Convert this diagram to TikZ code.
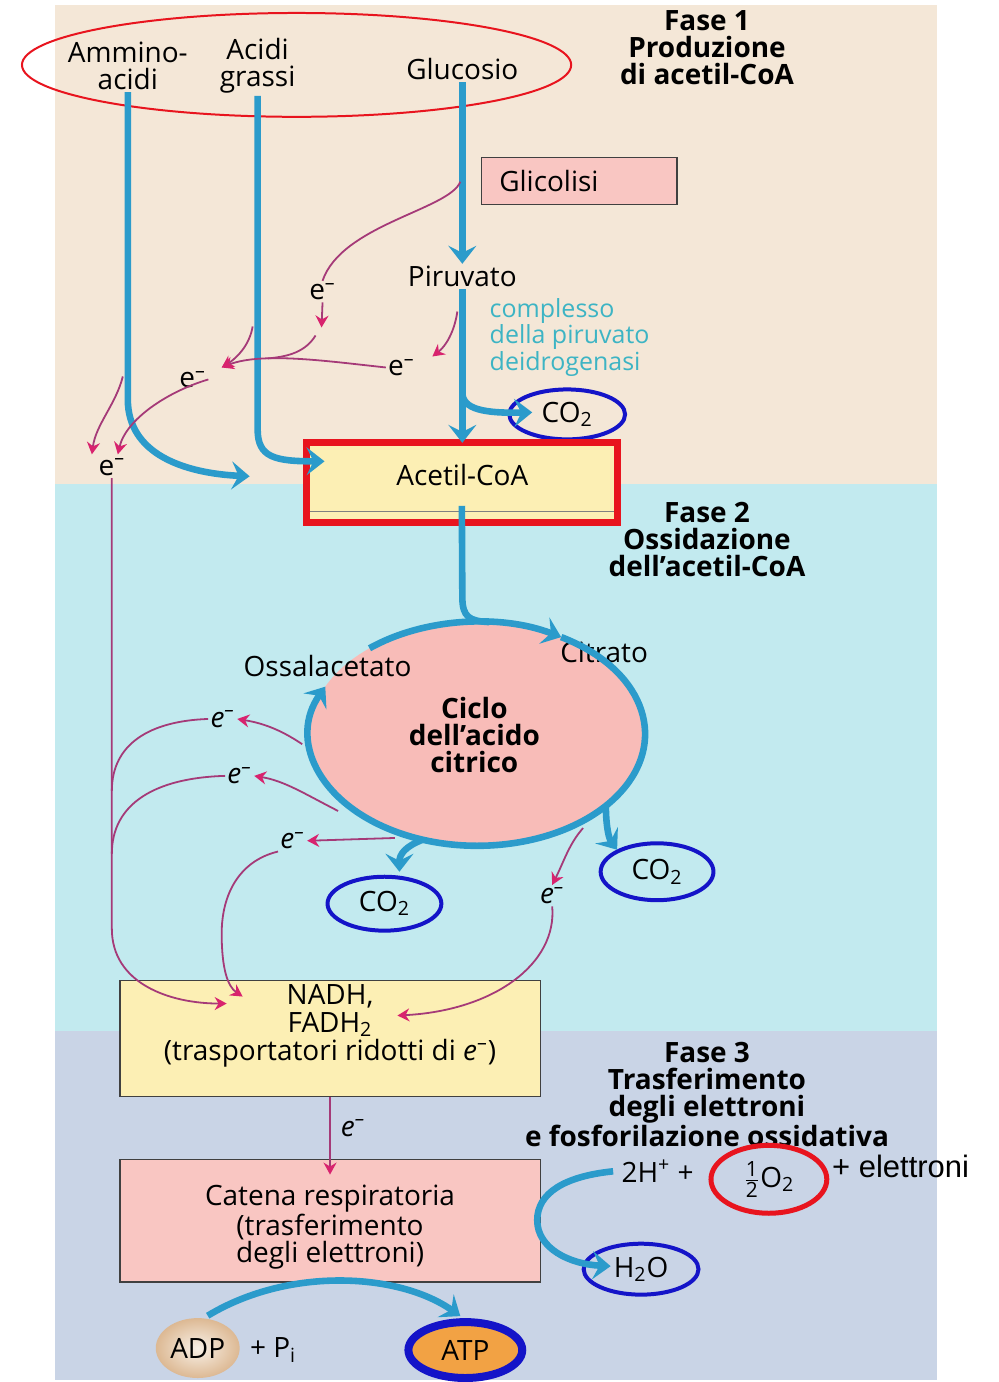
\documentclass[tikz,border=0pt]{standalone}
\usepackage{fontspec}
\setmainfont{Open Sans}
\newfontfamily\arialfont{Liberation Sans}
\usetikzlibrary{arrows.meta,shapes.geometric,calc}

\definecolor{fondobeige}{HTML}{F4E7D7}
\definecolor{fondociano}{HTML}{C2EAEF}
\definecolor{fondogrigio}{HTML}{C9D4E6}
\definecolor{bluflusso}{HTML}{2B9BCB}
\definecolor{testoteal}{HTML}{3DB4C4}
\definecolor{magentalinea}{HTML}{A53A78}
\definecolor{magentapunta}{HTML}{D8236E}
\definecolor{rosabox}{HTML}{F9C6C2}
\definecolor{rosaciclo}{HTML}{F8BCB8}
\definecolor{giallobox}{HTML}{FCEFB4}
\definecolor{bluanello}{HTML}{1414C8}
\definecolor{rosso}{HTML}{E8141E}
\definecolor{arancio}{HTML}{F2A244}

\newcommand{\mezzo}{\(\frac{\hbox{\fontsize{10.5}{10.5}\selectfont 1}}{\hbox{\fontsize{10.5}{10.5}\selectfont 2}}\)}

\tikzset{
  testo/.style={font=\fontsize{14}{13.5}\selectfont, align=center, inner sep=1pt},
  titolo/.style={font=\bfseries\fontsize{14}{13.5}\selectfont, align=center, inner sep=1pt},
  elab/.style={font=\fontsize{14}{14}\selectfont, inner sep=1pt},
  elabit/.style={font=\itshape\fontsize{14}{14}\selectfont, inner sep=1pt},
  flusso/.style={draw=bluflusso, line width=3.3pt, -{Stealth[length=9pt,width=14pt,inset=3.5pt]}},
  flussolinea/.style={draw=bluflusso, line width=3.3pt},
  elettroni/.style={draw=magentalinea, line width=0.9pt, -{Stealth[length=6pt,width=6.5pt,color=magentapunta]}},
  elinea/.style={draw=magentalinea, line width=0.9pt},
  scatola/.style={draw=black!75, line width=0.7pt, minimum width=210.5pt, inner sep=0pt},
  anello/.style={testo, draw=bluanello, line width=2pt, ellipse, inner sep=0pt},
}

\begin{document}
\begin{tikzpicture}[x=0.5pt,y=-0.5pt]
% sfondo delle tre fasi
\fill[white] (0,0) rectangle (1000,1382);
\fill[fondobeige] (55,5) rectangle (938,485);
\fill[fondociano] (55,485) rectangle (938,1032);
\fill[fondogrigio] (55,1032) rectangle (938,1382);
%
% Fase 1
\node[testo] (ammino) at (128,66) {Ammino-\\acidi};
\node[testo] (grassi) at (258,66) {Acidi\\grassi};
\node[testo] (glucosio) at (463,69) {Glucosio};
\draw[rosso, line width=1pt] (297,65) ellipse [x radius=275, y radius=52];
\node[titolo] (fase1) at (708,48) {Fase 1\\Produzione\\di acetil-CoA};
\node[testo, draw=black!75, line width=0.7pt, fill=rosabox, text width=80pt, align=left, inner xsep=9pt, minimum height=23.5pt] (glicolisi) at (580,181.5) {Glicolisi};
\node[testo] (piruvato) at (463,277) {Piruvato};
\node[testo, text=testoteal, align=left, anchor=west, font=\fontsize{12.5}{11.5}\selectfont] (complesso) at (488,338) {complesso\\della piruvato\\deidrogenasi};
\node[anello, minimum width=58pt, minimum height=25pt] (co2a) at (568,415) {CO\textsubscript{2}};
\node[draw=rosso, line width=3.5pt, fill=giallobox, minimum width=156pt, minimum height=40pt, inner sep=0pt, outer sep=0pt] (acetil) at (462.5,483.5) {};
\draw[black!50, line width=0.5pt] ($(acetil.south west)+(4,-11)$) -- ($(acetil.south east)+(-4,-11)$);
\node[testo] (acetiltxt) at (463,476) {Acetil-CoA};
%
\node[elab] (ea) at (323,292) {e\textsuperscript{–}};
\node[elab] (eb) at (402,368) {e\textsuperscript{–}};
\node[elab] (ec) at (193,380) {e\textsuperscript{–}};
\node[elab] (ed) at (112,468) {e\textsuperscript{–}};
\coordinate (amminoend) at (250,477);
\coordinate (grassiend) at (325,462);
\coordinate (pdh) at (463,393);
\coordinate (glicout) at (461,182);
\coordinate (piruout) at (458,312);
\coordinate (grassiout) at (253,327);
\coordinate (amminoout) at (123,377);
\coordinate (enodo) at (222,368);
%
\draw[flusso] (ammino.south) -- (128,400) .. controls (128,455) and (185,474) .. (amminoend);
\draw[flusso] (grassi.south) -- (258,430) .. controls (258,458) and (275,462) .. (grassiend);
\draw[flusso] (glucosio.south) -- (piruvato.north);
\draw[flusso] (piruvato.south) -- (piruvato.south |- acetil.north);
\draw[flusso] (pdh) .. controls (463,410) and (485,414) .. ($(co2a.center)+(-35,-2)$);
%
\draw[elinea] (glicout) .. controls (450,210) and (342,225) .. (ea.north);
\draw[elettroni] (ea.south) -- (322,328);
\draw[elinea] (316,336) .. controls (306,352) and (290,357) .. (268,359);
\draw[elettroni] (piruout) .. controls (455,333) and (446,347) .. (433,357);
\draw[elettroni] (eb.west) .. controls (330,362) and (262,352) .. (enodo);
\draw[elettroni] (grassiout) .. controls (250,345) and (238,358) .. (enodo);
\draw[elettroni] (ec.east) .. controls (168,392) and (126,420) .. (118,455);
\draw[elettroni] (amminoout) .. controls (116,405) and (96,425) .. (92,455);
%
% Fase 2
\node[titolo] (fase2) at (708,540) {Fase 2\\Ossidazione\\dell’acetil-CoA};
\coordinate (centrociclo) at (478,735);
\fill[rosaciclo] (centrociclo) ellipse [x radius=168, y radius=112];
\node[titolo] (ciclo) at (475,736) {Ciclo\\dell’acido\\citrico};
\node[testo] (ossalacetato) at (328,667) {Ossalacetato};
\node[testo] (citrato) at (605,653) {Citrato};
\draw[flussolinea] ($(acetil.south)+(0,-17)$) -- (463,598) .. controls (463,618) and (470,622) .. (490,623);
\draw[flusso] (centrociclo) ++(230:168 and 112) arc[start angle=230, end angle=300, x radius=168, y radius=112];
\draw[flusso] (centrociclo) ++(300:168 and 112) arc[start angle=300, end angle=565, x radius=168, y radius=112];
%
\node[anello, minimum width=56.5pt, minimum height=28.5pt] (co2b) at (658,873) {CO\textsubscript{2}};
\node[anello, minimum width=57pt, minimum height=27pt] (co2c) at (385,905) {CO\textsubscript{2}};
\path (centrociclo) ++(400:168 and 112) coordinate (ramob);
\path (centrociclo) ++(469:168 and 112) coordinate (ramoc);
\draw[flusso] (ramob) .. controls (607,830) and (610,840) .. ($(co2b.center)+(-40,-22)$);
\draw[flusso] (ramoc) .. controls (405,848) and (400,856) .. ($(co2c.center)+(15,-32)$);
%
\node[elabit] (e1) at (223,720) {e\textsuperscript{–}};
\node[elabit] (e2) at (240,777) {e\textsuperscript{–}};
\node[elabit] (e3) at (293,842) {e\textsuperscript{–}};
\node[elabit] (e4) at (553,897) {e\textsuperscript{–}};
\path (centrociclo) ++(535:176 and 118) coordinate (r1);
\path (centrociclo) ++(500:182 and 120) coordinate (r2);
\path (centrociclo) ++(478:176 and 118) coordinate (r3);
\path (centrociclo) ++(413:176 and 118) coordinate (r4);
\draw[elettroni] (r1) .. controls (280,730) and (262,724) .. (e1.east);
\draw[elettroni] (r2) .. controls (305,795) and (285,782) .. (e2.east);
\draw[elettroni] (r3) -- (e3.east);
\draw[elettroni] (r4) .. controls (570,845) and (565,862) .. (e4.north);
%
\node[scatola, fill=giallobox, minimum height=58pt] (nadh) at (330.5,1040) {};
\node[testo, font=\fontsize{14}{14}\selectfont] (nadhtxt) at (330.5,1027) {NADH,\\FADH\textsubscript{2}\\(trasportatori ridotti di {\itshape e}\textsuperscript{–})};
\coordinate (nadhin1) at (227,1005);
\coordinate (nadhin2) at (243,998);
\coordinate (nadhin3) at (398,1017);
\draw[elettroni] (ed.south) -- (112,930) .. controls (112,985) and (170,1005) .. (nadhin1);
\draw[elinea] (e1.west) .. controls (150,722) and (112,745) .. (112,792);
\draw[elinea] (e2.west) .. controls (155,779) and (112,805) .. (112,855);
\draw[elettroni] (e3.south west) .. controls (240,862) and (222,895) .. (222,935) .. controls (222,970) and (228,988) .. (nadhin2);
\draw[elettroni] (e4.south) .. controls (558,965) and (495,1012) .. (nadhin3);
%
% Fase 3
\node[titolo] (fase3) at (708,1096) {Fase 3\\Trasferimento\\degli elettroni\\e fosforilazione ossidativa};
\node[scatola, fill=rosabox, minimum height=61.5pt] (catena) at (330.5,1222.5) {};
\node[testo] (catenatxt) at (330.5,1229) {Catena respiratoria\\(trasferimento\\degli elettroni)};
\draw[elettroni] (nadh.south) -- ($(catena.north)+(0,16)$) node[pos=0.4, right=4pt, elabit] (ecat) {e\textsuperscript{–}};
%
\node[testo, anchor=west] (idrogeno) at (620,1173) {2H\textsuperscript{+} +};
\node[testo, ellipse, draw=rosso, line width=2.5pt, minimum width=58pt, minimum height=34pt, inner sep=0pt] (ossigeno) at (770,1181) {\mezzo O\textsubscript{2}};
\node[font=\arialfont\fontsize{15.5}{15.5}\selectfont, anchor=west, inner sep=0pt] (elettroni) at (833,1168) {+ elettroni};
\node[anello, minimum width=57.5pt, minimum height=25.5pt] (acqua) at (642,1271) {H\textsubscript{2}O};
\draw[flusso] ($(idrogeno.west)+(-6,0)$) .. controls (565,1178) and (538,1195) .. (538,1222) .. controls (538,1250) and (570,1266) .. ($(acqua.west)+(29,-3)$);
%
\node[testo, ellipse, inner color=fondobeige!60, outer color=brown!45!fondobeige, minimum width=42pt, minimum height=30pt, inner sep=0pt] (adp) at (198,1350) {ADP};
\node[testo, anchor=west] (fosfato) at (248,1352) {+ P\textsubscript{i}};
\node[testo, ellipse, fill=arancio, draw=bluanello, line width=4pt, minimum width=57pt, minimum height=28pt, inner sep=0pt] (atp) at (466,1352) {ATP};
\draw[flusso] ($(adp.north)+(10,-2)$) .. controls (290,1268) and (400,1275) .. ($(atp.north)+(-5,-2)$);
%
\end{tikzpicture}
\end{document}
